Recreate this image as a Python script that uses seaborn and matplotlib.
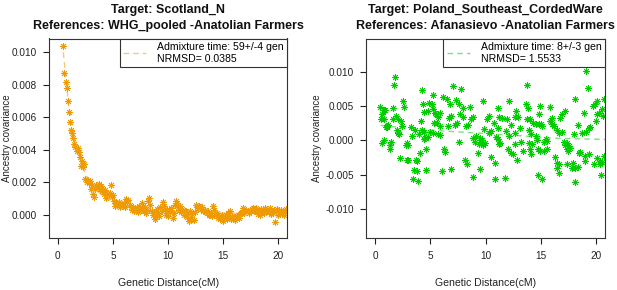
import numpy as np
import matplotlib
matplotlib.use("Agg")
import matplotlib.pyplot as plt
import seaborn as sns
from matplotlib.ticker import FuncFormatter
from matplotlib.lines import Line2D

# ---------------- data (covariance values in units of 1e-3) ----------------
left_dist = [
    0.5, 0.6, 0.7, 0.8, 0.9, 1.0, 1.1, 1.2, 1.3, 1.4,
    1.5, 1.6, 1.7, 1.8, 1.9, 2.0, 2.1, 2.2, 2.3, 2.4,
    2.5, 2.6, 2.7, 2.8, 2.9, 3.0, 3.1, 3.2, 3.3, 3.4,
    3.5, 3.6, 3.7, 3.8, 3.9, 4.0, 4.1, 4.2, 4.3, 4.4,
    4.5, 4.6, 4.7, 4.8, 4.9, 5.0, 5.1, 5.2, 5.3, 5.4,
    5.5, 5.6, 5.7, 5.8, 5.9, 6.0, 6.1, 6.2, 6.3, 6.4,
    6.5, 6.6, 6.7, 6.8, 6.9, 7.0, 7.1, 7.2, 7.3, 7.4,
    7.5, 7.6, 7.7, 7.8, 7.9, 8.0, 8.1, 8.2, 8.3, 8.4,
    8.5, 8.6, 8.7, 8.8, 8.9, 9.0, 9.1, 9.2, 9.3, 9.4,
    9.5, 9.6, 9.7, 9.8, 9.9, 10.0, 10.1, 10.2, 10.3, 10.4,
    10.5, 10.6, 10.7, 10.8, 10.9, 11.0, 11.1, 11.2, 11.3, 11.4,
    11.5, 11.6, 11.7, 11.8, 11.9, 12.0, 12.1, 12.2, 12.3, 12.4,
    12.5, 12.6, 12.7, 12.8, 12.9, 13.0, 13.1, 13.2, 13.3, 13.4,
    13.5, 13.6, 13.7, 13.8, 13.9, 14.0, 14.1, 14.2, 14.3, 14.4,
    14.5, 14.6, 14.7, 14.8, 14.9, 15.0, 15.1, 15.2, 15.3, 15.4,
    15.5, 15.6, 15.7, 15.8, 15.9, 16.0, 16.1, 16.2, 16.3, 16.4,
    16.5, 16.6, 16.7, 16.8, 16.9, 17.0, 17.1, 17.2, 17.3, 17.4,
    17.5, 17.6, 17.7, 17.8, 17.9, 18.0, 18.1, 18.2, 18.3, 18.4,
    18.5, 18.6, 18.7, 18.8, 18.9, 19.0, 19.1, 19.2, 19.3, 19.4,
    19.5, 19.6, 19.7, 19.8, 19.9, 20.0, 20.1, 20.2, 20.3, 20.4,
    20.5, 20.6, 20.7,
]
left_cov = [
    10.4, 8.75, 8.2, 7.8, 7.0, 6.35, 5.7, 5.2, 5.05, 4.7,
    4.35, 4.2, 3.95, 4.1, 3.85, 3.55, 3.0, 3.3, 2.95, 3.1,
    2.2, 2.0, 2.15, 1.95, 2.05, 1.6, 1.85, 1.3, 1.1, 1.55,
    1.8, 1.7, 1.9, 1.55, 1.75, 1.45, 1.6, 1.3, 1.5, 1.05,
    1.3, 1.2, 1.35, 1.85, 1.1, 1.2, 0.85, 0.55, 0.7, 0.6,
    0.75, 0.5, 0.6, 0.65, 0.55, 0.7, 0.45, 0.95, 0.85, 0.9,
    0.6, 0.5, 0.3, 0.45, 0.2, 0.35, 0.25, 0.4, 0.15, 0.55,
    0.3, 0.7, 0.35, 0.2, 0.5, 0.1, 0.3, 0.85, 1.0, 0.6,
    0.2, -0.05, 0.15, -0.25, 0.0, 0.35, 0.1, -0.1, 0.5, 0.2,
    0.75, 0.55, 0.35, 0.0, 0.25, -0.1, 0.3, 0.15, 0.4, -0.2,
    0.1, 0.6, 0.85, 0.7, 0.5, 0.3, 0.55, 0.15, 0.35, 0.0,
    0.2, 0.25, -0.15, 0.05, -0.4, 0.2, -0.3, 0.05, -0.35, 0.15,
    0.6, 0.5, 0.4, 0.55, 0.45, 0.35, 0.5, 0.2, 0.3, 0.15,
    0.1, 0.25, -0.05, 0.0, 0.1, -0.1, 0.55, 0.3, 0.0, 0.1,
    -0.2, -0.1, -0.3, -0.15, 0.0, -0.4, -0.2, -0.05, -0.3, 0.1,
    -0.15, 0.25, -0.3, -0.1, -0.25, -0.2, -0.35, -0.1, 0.0, -0.2,
    0.05, 0.1, 0.15, 0.4, 0.1, 0.25, 0.3, 0.2, 0.1, 0.3,
    0.2, 0.35, 0.4, 0.25, 0.3, 0.4, 0.05, 0.2, -0.05, 0.35,
    0.2, 0.3, 0.1, 0.4, 0.2, 0.3, 0.15, 0.4, 0.05, 0.25,
    0.1, 0.3, -0.45, 0.2, 0.35, 0.0, 0.15, 0.3, 0.05, 0.25,
    -0.05, 0.2, 0.35,
]
left_fit_dist = [0.5, 1.0, 1.5, 2.0, 2.5, 3.0, 3.5, 4.0, 5.0, 6.0, 7.0, 8.0, 10.0, 12.0, 15.0, 21.0]
left_fit_cov = [10.0, 6.6, 4.6, 3.4, 2.5, 1.9, 1.5, 1.2, 0.8, 0.55, 0.4, 0.3, 0.2, 0.15, 0.1, 0.1]

right_dist = [
    0.45, 0.5, 0.6, 0.6, 0.76, 0.8, 0.85, 0.8, 0.95,
    1.05, 1.1, 1.2, 1.3, 1.35, 1.45, 1.57, 1.6, 1.7, 1.8, 1.87, 1.95,
    2.05, 2.1, 2.15, 2.26, 2.35, 2.4, 2.55, 2.65, 2.8, 2.86, 2.86, 3.0,
    3.0, 3.25, 3.37, 3.46, 3.5, 3.6, 3.7, 3.76, 3.76, 3.85, 3.97,
    4.06, 4.15, 4.2, 4.2, 4.3, 4.37, 4.37, 4.4, 4.5, 4.6, 4.6, 4.8, 4.87, 4.78, 4.95,
    5.1, 5.2, 5.2, 5.3, 5.27, 5.4, 5.54, 5.57, 5.7, 5.7, 5.84, 5.87, 5.84, 6.0,
    6.1, 6.2, 6.3, 6.45, 6.6, 6.68, 6.8, 6.86, 6.9, 7.0,
    7.2, 7.3, 7.4, 7.6, 7.6, 7.65, 7.75, 7.95, 7.95,
    8.1, 8.25, 8.3, 8.4, 8.55, 8.7, 8.8, 8.85, 8.85, 9.0,
    9.15, 9.3, 9.4, 9.45, 9.5, 9.7, 9.75, 9.75, 9.87, 9.95,
    10.15, 10.3, 10.3, 10.5, 10.5, 10.75, 10.8, 10.8, 10.9,
    11.1, 11.1, 11.1, 11.2, 11.2, 11.3, 11.5, 11.7, 11.8, 11.9,
    12.0, 12.1, 12.1, 12.3, 12.3, 12.5, 12.6, 12.6, 12.6, 12.7, 12.85, 12.9,
    13.1, 13.2, 13.4, 13.6, 13.7, 13.7, 13.8, 13.9, 13.9, 14.0,
    14.0, 14.05, 14.1, 14.2, 14.25, 14.5, 14.5, 14.6, 14.7, 14.75, 14.8, 14.8, 14.9, 14.9,
    15.0, 15.1, 15.1, 15.25, 15.25, 15.4, 15.5, 15.55, 15.8, 15.8, 16.0, 16.0,
    16.2, 16.25, 16.4, 16.45, 16.45, 16.6, 16.65, 16.65, 16.75, 16.85, 16.9,
    17.05, 17.15, 17.15, 17.3, 17.35, 17.35, 17.45, 17.5, 17.6, 17.75, 17.9, 17.95,
    18.05, 18.05, 18.1, 18.35, 18.35, 18.4, 18.5, 18.7, 18.85, 18.95, 18.95,
    19.05, 19.1, 19.2, 19.3, 19.3, 19.45, 19.7, 19.75, 19.9, 19.95,
    20.05, 20.05, 20.05, 20.2, 20.3, 20.35, 20.45, 20.5, 20.5, 20.6, 20.65, 20.7,
]
right_cov = [
    4.9, 3.2, 3.8, -0.3, 3.1, 4.4, 4.5, 0.1, 2.0,
    2.1, 1.9, 2.3, -1.3, -0.6, -0.2, 4.7, 3.2, 8.05, 9.3, 3.6, 1.6,
    1.1, 3.2, 0.9, -2.5, 2.8, 2.1, 5.75, 4.9, -0.7, -0.34, -2.9, -0.6,
    -2.9, 1.95, 0.6, -5.7, -4.25, 1.6, -2.9, -4.5, -3.0, -5.95, 1.0,
    -1.8, 2.8, 1.6, 7.4, 5.3, 4.15, 1.3, 0.15, 0.4, -1.3, -4.25, 0.55, 5.5, 4.3, 1.3,
    5.3, 6.7, 1.1, 2.5, 4.55, 3.95, 3.9, 2.6, 3.45, 1.0, 4.05, 2.1, 0.8, -4.5,
    6.4, -1.3, -1.65, 6.1, 2.1, 3.3, 5.3, -4.1, 3.55, 7.9,
    2.3, 5.9, 2.6, -0.2, 5.3, 3.8, 7.45, 4.8, 3.5,
    -2.8, 2.1, -3.5, 2.3, 4.9, 3.1, -5.4, 3.5, 0.4, -0.2,
    0.6, -1.8, -0.5, 0.3, -4.1, 0.0, 5.75, -0.6, 1.7, -0.3,
    3.1, 3.55, 1.1, 1.35, -2.4, 2.6, -3.3, -5.7, 0.5,
    4.8, 1.85, 0.15, 3.4, -0.5, -0.3, 3.3, -5.5, 1.45, 3.2,
    -1.3, 5.75, 0.6, 2.3, -1.8, -1.95, 1.1, -0.5, 3.4, 4.3, -2.8, 3.5,
    1.8, -0.2, -1.55, 5.4, 8.1, 3.2, 4.8, 1.5, -0.4, -1.3,
    3.1, 0.9, -2.0, -0.5, 2.6, 2.4, 0.6, 0.0, -1.3, -5.0, 3.8, 2.4, -1.55, 5.1,
    2.4, 2.1, -5.7, -0.2, -1.55, 0.15, -1.3, -0.1, 4.9, 2.9, 3.3, 2.35,
    2.1, -2.4, -4.0, -3.3, 1.6, -3.5, 1.1, -4.7, 3.3, 1.3, 3.8,
    -0.2, 4.3, -0.6, -1.3, -0.35, -3.5, -1.55, -0.8, -1.1, -4.0, -3.3, 0.9,
    6.1, -4.0, -6.05, 2.25, -3.85, -1.8, -1.65, 1.1, 4.05, -2.3, -3.0,
    1.3, 10.2, 7.6, 1.85, -1.95, 1.95, 5.0, -3.5, 5.35, 2.8,
    3.9, -2.5, 5.75, 4.05, -3.0, -3.5, -5.1, 4.55, -3.1, 3.6, 6.1, -2.3,
]
right_fit_dist = [0.5, 2.0, 4.0, 6.0, 8.0, 10.0, 12.0, 14.0, 16.0, 18.0, 21.0]
right_fit_cov = [2.2, 1.95, 1.7, 1.4, 1.2, 1.0, 0.8, 0.6, 0.35, 0.25, 0.15]

x_ticks = [0, 5, 10, 15, 20]
left_y_ticks = [0.000, 0.002, 0.004, 0.006, 0.008, 0.010]
right_y_ticks = [-0.010, -0.005, 0.000, 0.005, 0.010]

panels = [
    dict(title="Target: Scotland_N\nReferences: WHG_pooled -Anatolian Farmers",
         x=left_dist, y=left_cov, fx=left_fit_dist, fy=left_fit_cov,
         color="#EE9A00", fitcolor="#F4C87A",
         legend="Admixture time: 59+/-4 gen\nNRMSD= 0.0385",
         ylim=(-0.00146, 0.01086), yticks=left_y_ticks),
    dict(title="Target: Poland_Southeast_CordedWare\nReferences: Afanasievo -Anatolian Farmers",
         x=right_dist, y=right_cov, fx=right_fit_dist, fy=right_fit_cov,
         color="#00CD00", fitcolor="#80E080",
         legend="Admixture time: 8+/-3 gen\nNRMSD= 1.5533",
         ylim=(-0.0143, 0.0149), yticks=right_y_ticks),
]

plt.rcParams["font.family"] = ["Liberation Sans", "DejaVu Sans"]
plt.rcParams["axes.unicode_minus"] = False

FS = 7.6
TFS = 7.2
W, H = 617, 290
fig = plt.figure(figsize=(W / 100, H / 100), dpi=100)
axes_px = [(49, 38.5, 287.3, 238.3), (366.3, 38.5, 605.3, 238.3)]
ylabel_x = [-0.178, -0.205]

for i, (p, (x0, y0, x1, y1)) in enumerate(zip(panels, axes_px)):
    ax = fig.add_axes([x0 / W, 1 - y1 / H, (x1 - x0) / W, (y1 - y0) / H])
    assert len(p["x"]) == len(p["y"])
    yv = np.array(p["y"]) * 1e-3
    fy = np.array(p["fy"]) * 1e-3
    sns.lineplot(x=p["fx"], y=fy, ax=ax, color=p["fitcolor"], lw=1.0, zorder=1)
    ax.lines[-1].set_dashes((4, 3))
    sns.scatterplot(x=p["x"], y=yv, ax=ax, marker=(8, 2, 0), s=20,
                    color=p["color"], edgecolor=p["color"], linewidth=0.65,
                    zorder=2, legend=False)
    ax.set_xlim(-0.8, 20.8)
    ax.set_ylim(*p["ylim"])
    ax.set_xticks(x_ticks)
    ax.set_yticks(p["yticks"])
    ax.yaxis.set_major_formatter(
        FuncFormatter(lambda v, pos: "{:.3f}".format(v).replace("-0.000", "0.000")))
    ax.tick_params(axis="both", labelsize=TFS, length=4, width=0.8, pad=5,
                   direction="out", colors="#222222", labelcolor="#222222")
    for s in ax.spines.values():
        s.set_linewidth(0.8)
        s.set_color("#333333")
    ax.set_xlabel("Genetic Distance(cM)", fontsize=FS, color="#222222")
    ax.xaxis.set_label_coords(0.5, -0.225)
    ax.xaxis.label.set_va("center")
    ax.set_ylabel("Ancestry covariance", fontsize=7.0, color="#222222")
    ax.yaxis.set_label_coords(ylabel_x[i], 0.5)
    ax.yaxis.label.set_va("center")
    ax.set_title(p["title"], fontsize=9.0, fontweight="bold", pad=7,
                 linespacing=1.4, color="#111111")
    h = Line2D([], [], color=p["fitcolor"], lw=1.0, dashes=(4, 3))
    leg = ax.legend([h], [p["legend"]], loc="upper right", bbox_to_anchor=(1, 1),
                    borderaxespad=0, fancybox=False, framealpha=1,
                    edgecolor="#333333", fontsize=FS, handlelength=2.2,
                    handletextpad=1.0, borderpad=0.35)
    leg.get_frame().set_linewidth(0.8)
    leg.set_zorder(5)

fig.savefig("out.png", dpi=100)
